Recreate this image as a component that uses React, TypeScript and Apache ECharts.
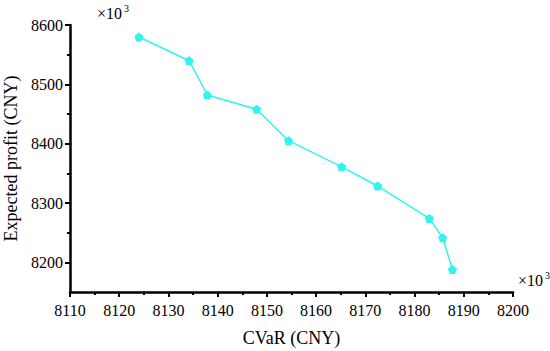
import React, { useEffect, useRef } from "react";
import * as echarts from "echarts";

const cvar = [8124.0, 8134.2, 8137.9, 8147.9, 8154.4, 8165.2, 8172.5, 8183.0, 8185.7, 8187.7];
const profit = [8579.8, 8539.8, 8482.0, 8457.9, 8405.0, 8361.0, 8328.6, 8274.0, 8241.5, 8188.0];
const yMajorTicks = [8200, 8300, 8400, 8500, 8600];
const yMinorTicks = [8250, 8350, 8450, 8550];

const FONT = "Liberation Serif";
const COLOR = "#33f2f2";
const INK = "black";

export default function App() {
  const ref = useRef<HTMLDivElement>(null);
  useEffect(() => {
    if (!ref.current) return;
    const chart = echarts.init(ref.current, undefined, { renderer: "svg" });
    chart.setOption({
      animation: false,
      textStyle: { fontFamily: FONT },
      grid: { left: 70, right: 37, top: 25, bottom: 59, outerBoundsMode: "none" },
      xAxis: {
        type: "value",
        min: 8110,
        max: 8200,
        interval: 10,
        axisLine: { show: true, onZero: false, lineStyle: { color: INK, width: 2.5 } },
        axisTick: { show: true, length: 5, lineStyle: { color: INK, width: 2 } },
        minorTick: { show: true, splitNumber: 2, length: 3, lineStyle: { color: INK, width: 2 } },
        splitLine: { show: false },
        minorSplitLine: { show: false },
        axisLabel: { color: INK, fontFamily: FONT, fontSize: 16, margin: 10, formatter: (v: number) => String(v) },
        name: "CVaR (CNY)",
        nameLocation: "middle",
        nameGap: 37,
        nameTextStyle: { color: INK, fontFamily: FONT, fontSize: 18 },
      },
      yAxis: [
        {
          type: "value",
          min: 8150,
          max: 8600,
          position: "left",
          axisLine: { show: true, onZero: false, lineStyle: { color: INK, width: 2.5 } },
          axisTick: { show: true, length: 5, customValues: yMajorTicks, lineStyle: { color: INK, width: 2 } },
          splitLine: { show: false },
          axisLabel: { color: INK, fontFamily: FONT, fontSize: 16, margin: 7, customValues: yMajorTicks, formatter: (v: number) => String(v) },
          name: "Expected profit (CNY)",
          nameLocation: "middle",
          nameGap: 50,
          nameTextStyle: { color: INK, fontFamily: FONT, fontSize: 18 },
        },
        {
          type: "value",
          min: 8150,
          max: 8600,
          position: "left",
          axisLine: { show: false, onZero: false },
          axisTick: { show: true, length: 3, customValues: yMinorTicks, lineStyle: { color: INK, width: 2 } },
          splitLine: { show: false },
          axisLabel: { show: false },
        },
      ],
      graphic: [
        { type: "text", left: 97, top: 5, style: { text: "×10", fontFamily: FONT, fontSize: 16, fill: INK } },
        { type: "text", left: 124, top: 3, style: { text: "3", fontFamily: FONT, fontSize: 10, fill: INK } },
        { type: "text", left: 518, top: 272, style: { text: "×10", fontFamily: FONT, fontSize: 16, fill: INK } },
        { type: "text", left: 545, top: 270, style: { text: "3", fontFamily: FONT, fontSize: 10, fill: INK } },
      ],
      series: [
        {
          type: "line",
          data: cvar.map((x, i) => [x, profit[i]]),
          symbol: "path://M0,-1 L0.951,-0.309 L0.588,0.809 L-0.588,0.809 L-0.951,-0.309 Z",
          symbolSize: 9,
          lineStyle: { color: COLOR, width: 1.5 },
          itemStyle: { color: COLOR },
        },
      ],
    });
    return () => chart.dispose();
  }, []);
  return <div ref={ref} style={{ width: 550, height: 351, position: "absolute", left: 0, top: 0 }} />;
}
